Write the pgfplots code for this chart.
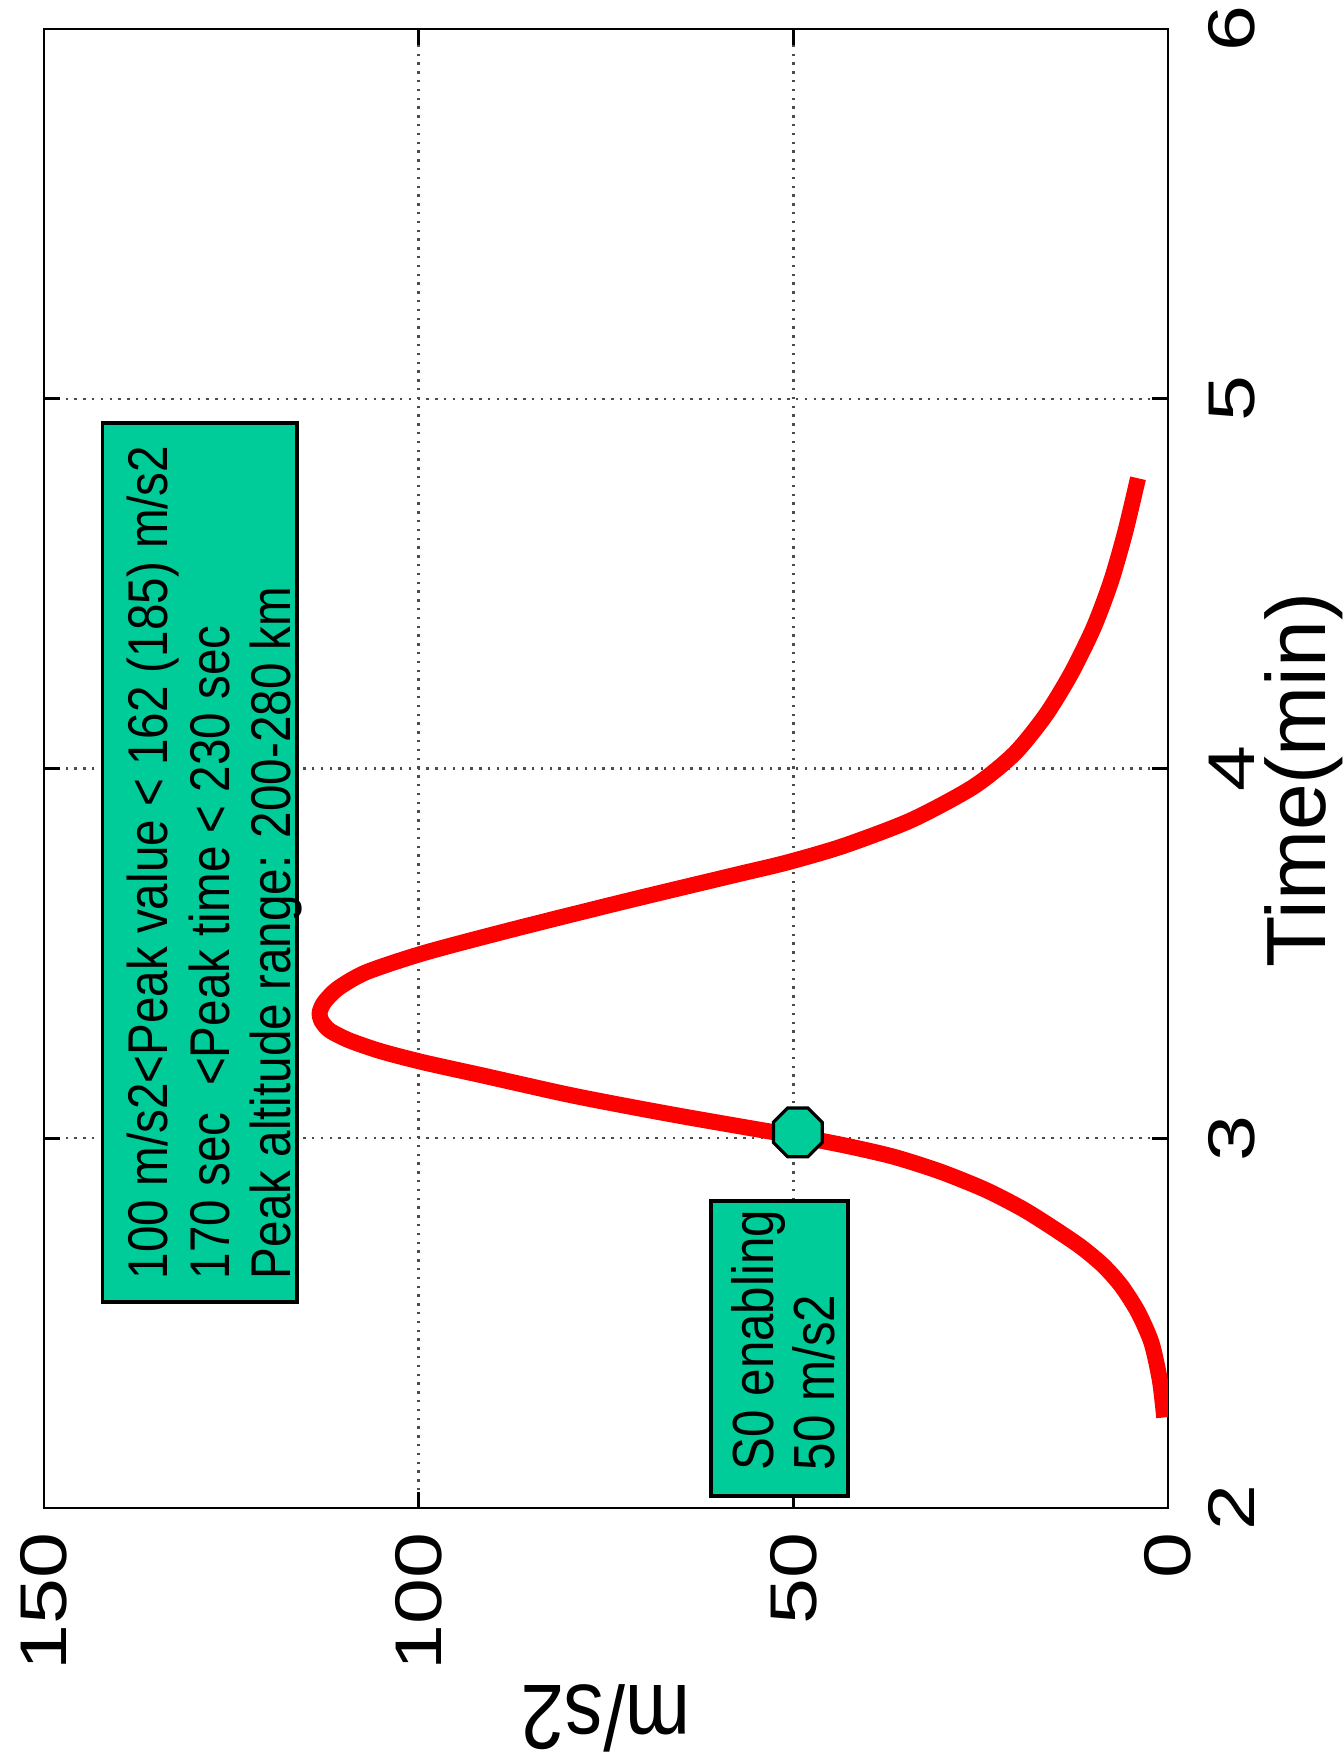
\documentclass[border=0pt]{standalone}
\usepackage{fontspec}
\setmainfont{Liberation Sans}
\newfontfamily\tickfont[FakeStretch=1.25]{Liberation Sans}
\newfontfamily\condfont[FakeStretch=0.85]{Liberation Sans}
\usepackage{pgfplots}
\pgfplotsset{compat=1.18}
\definecolor{boxgreen}{RGB}{0,204,153}
\pgfdeclareplotmark{oct}{%
  \pgfpathmoveto{\pgfpointpolar{22.5}{\pgfplotmarksize}}%
  \pgfpathlineto{\pgfpointpolar{67.5}{\pgfplotmarksize}}%
  \pgfpathlineto{\pgfpointpolar{112.5}{\pgfplotmarksize}}%
  \pgfpathlineto{\pgfpointpolar{157.5}{\pgfplotmarksize}}%
  \pgfpathlineto{\pgfpointpolar{202.5}{\pgfplotmarksize}}%
  \pgfpathlineto{\pgfpointpolar{247.5}{\pgfplotmarksize}}%
  \pgfpathlineto{\pgfpointpolar{292.5}{\pgfplotmarksize}}%
  \pgfpathlineto{\pgfpointpolar{337.5}{\pgfplotmarksize}}%
  \pgfpathclose
  \pgfusepathqfillstroke
}
\begin{document}
\begin{tikzpicture}
\begin{axis}[
  at={(11pt,63.25pt)}, anchor=south west,
  width=281pt, height=369.75pt, scale only axis,
  xmin=0, xmax=150, ymin=2, ymax=6,
  x dir=reverse,
  xtick={0,50,100,150}, ytick={2,3,4,5,6},
  minor tick num=0,
  xtick pos=both, ytick pos=both,
  xticklabel pos=left, yticklabel pos=right,
  tick align=inside, major tick length=4pt,
  grid=major,
  major grid style={black!70, line width=0.6pt, dash pattern=on 0.6pt off 1.6pt},
  axis line style={line width=0.7pt},
  every tick/.style={black, line width=0.7pt},
  /pgf/number format/assume math mode=true,
  xticklabel style={rotate=90, anchor=east, inner sep=0pt, font=\tickfont\fontsize{16.5}{16.5}\selectfont},
  xticklabel shift=6pt,
  yticklabel style={rotate=90, anchor=north, inner sep=0pt, font=\tickfont\fontsize{16.5}{16.5}\selectfont},
  yticklabel shift=10pt,
  xlabel={m/s2}, ylabel={Time(min)},
  every axis x label/.style={at={(axis description cs:0.5,-0.1197)}, rotate=180, anchor=base, inner sep=0pt, font=\condfont\fontsize{23}{23}\selectfont},
  every axis y label/.style={at={(axis description cs:1.0855,0.492)}, rotate=90, anchor=north, inner sep=0pt, font=\fontsize{21}{21}\selectfont},
]
% annotation boxes
\draw[fill=boxgreen, draw=black, line width=0.9pt] (axis cs:142.2,2.557) rectangle (axis cs:116.2,4.934);
\node[rotate=90, anchor=north west, inner sep=0pt, align=left, font=\condfont\fontsize{14}{15.4}\selectfont]
  at (axis cs:139.0,2.617) {100 m/s2<Peak value < 162 (185) m/s2\\170 sec\ \ <Peak time < 230 sec\\Peak altitude range: 200-280 km};
\draw[fill=boxgreen, draw=black, line width=0.9pt] (axis cs:61.0,2.032) rectangle (axis cs:42.7,2.830);
\node[rotate=90, anchor=north west, inner sep=0pt, align=left, font=\condfont\fontsize{14.5}{15.4}\selectfont]
  at (axis cs:58.4,2.100) {S0 enabling\\50 m/s2};
% acceleration curve (x = acceleration m/s2, y = time min)
\addplot[red, line width=4pt, line join=round, smooth, tension=0.45] coordinates {
(0.5,2.245) (1.07,2.344) (2.2,2.447) (4.0,2.530) (6.2,2.600) (8.6,2.655)
(11.6,2.706) (15.3,2.757) (19.4,2.809) (24.4,2.861) (30.4,2.910) (36.6,2.950)
(43.0,2.980) (49.4,3.005) (56.5,3.030) (65.0,3.060) (73.0,3.090) (80.5,3.120)
(91.5,3.170) (99.3,3.205) (105.0,3.235) (109.3,3.265) (111.9,3.292) (113.0,3.318)
(113.2,3.341) (112.6,3.368) (110.8,3.405) (107.0,3.449) (99.3,3.501) (87.8,3.563)
(72.6,3.640) (57.6,3.713) (51.0,3.745) (43.4,3.790) (34.3,3.860) (26.0,3.950)
(20.5,4.040) (16.3,4.145) (12.9,4.258) (9.9,4.382) (7.6,4.506) (5.7,4.640) (4.0,4.785)
};
\addplot[only marks, mark=oct, mark size=6.6pt, mark options={fill=boxgreen, draw=black, line width=0.8pt}] coordinates {(49.4,3.016)};
\end{axis}
\pgfresetboundingbox
\useasboundingbox (0,0) rectangle (336pt,440.25pt);
\end{tikzpicture}
\end{document}
